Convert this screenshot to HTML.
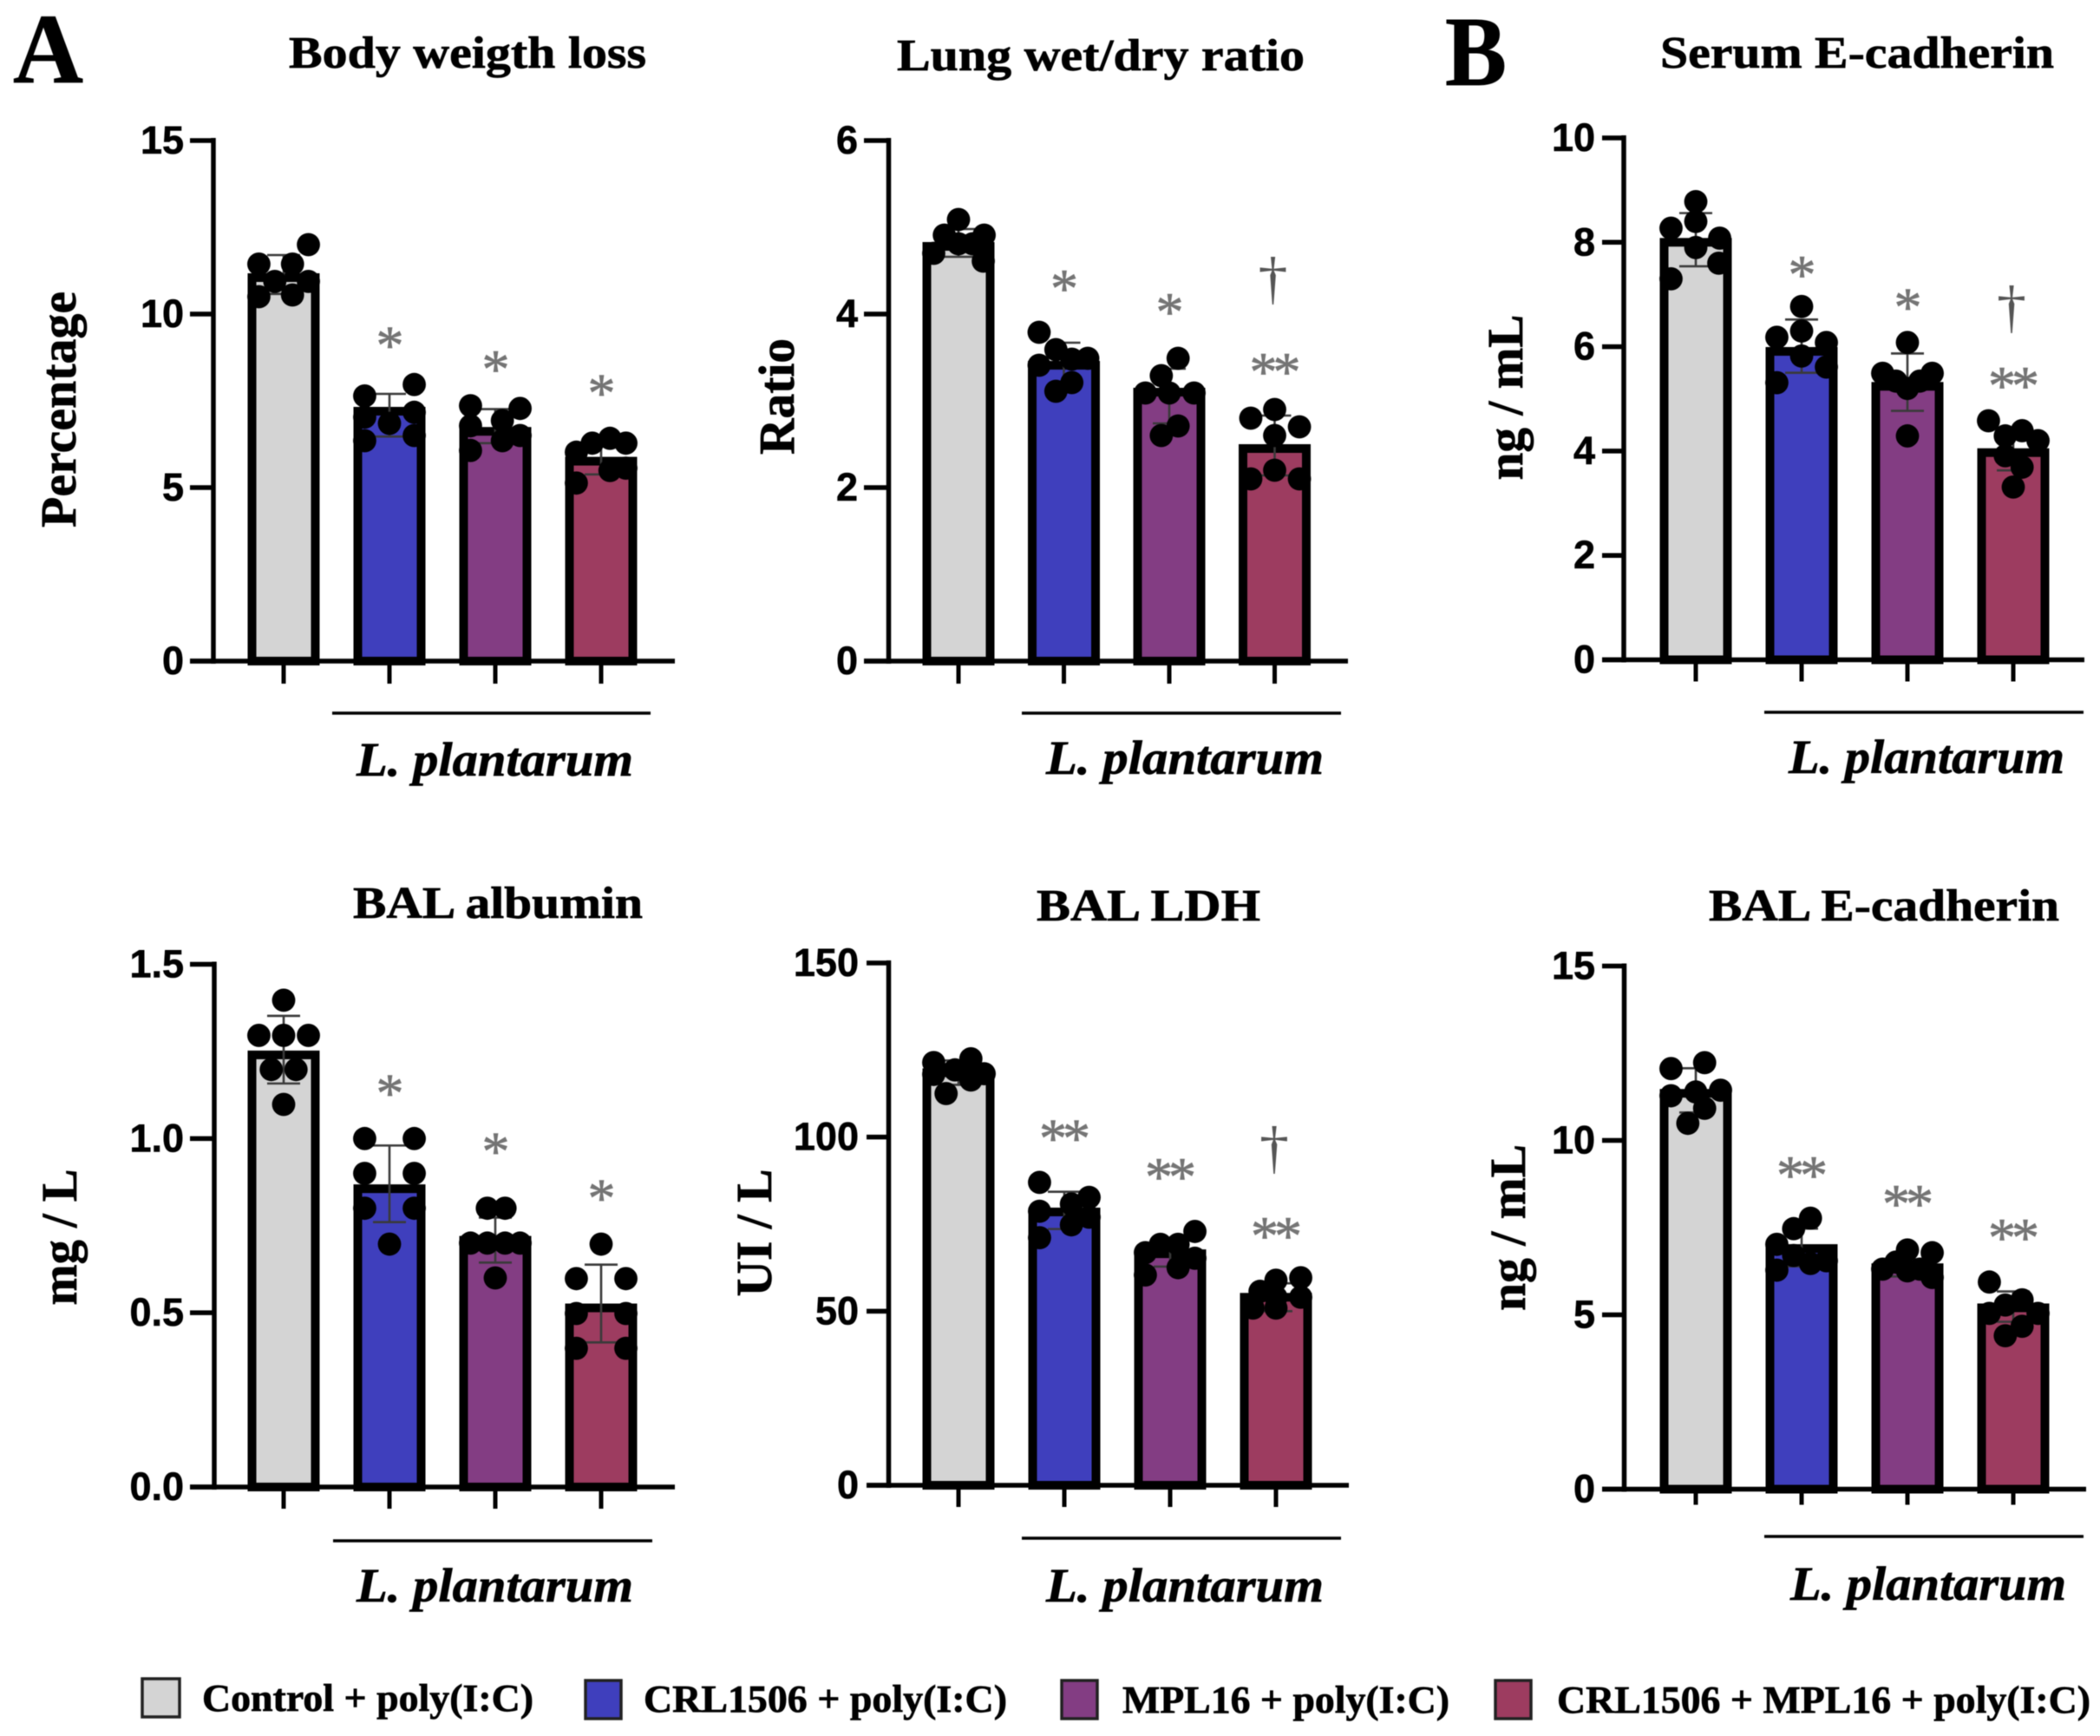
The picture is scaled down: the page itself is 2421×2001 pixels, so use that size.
<!DOCTYPE html>
<html lang="en">
<head>
<meta charset="utf-8">
<title>Lung injury bar charts</title>
<style>
html,body{margin:0;padding:0;background:#fff;}
svg{display:block;filter:blur(0.6px);}
.serif{font-family:"Liberation Serif",serif;font-weight:700;fill:#000;stroke:#000;stroke-width:0.7;}
.title{font-size:52px;}
.letter{font-size:114px;}
.axis-title{font-size:58px;}
.species{font-size:55px;font-style:italic;}
.legend-text{font-size:44px;}
.tick-label{font-family:"Liberation Sans",sans-serif;font-weight:700;font-size:45px;fill:#000;stroke:#000;stroke-width:0.6;}
.sig{font-family:"Liberation Serif",serif;fill:#747474;stroke:#747474;stroke-width:0.7;text-anchor:middle;letter-spacing:-5px;}
.dagger{font-family:"Liberation Serif",serif;fill:#555;text-anchor:middle;}
</style>
</head>
<body>
<svg id="figure" xmlns="http://www.w3.org/2000/svg" width="2421" height="2001" viewBox="0 0 2421 2001">
  <rect width="2421" height="2001" fill="#fff"/>
  <text class="serif letter" x="15" y="95" textLength="81" lengthAdjust="spacingAndGlyphs">A</text>
  <text class="serif letter" x="1666" y="98" textLength="71" lengthAdjust="spacingAndGlyphs">B</text>

  <text class="serif title" x="333" y="78" textLength="412" lengthAdjust="spacingAndGlyphs">Body weigth loss</text>
  <text class="serif title" x="1034" y="81" textLength="470" lengthAdjust="spacingAndGlyphs">Lung wet/dry ratio</text>
  <text class="serif title" x="1914" y="78" textLength="454" lengthAdjust="spacingAndGlyphs">Serum E-cadherin</text>
  <text class="serif title" x="407" y="1058" textLength="334" lengthAdjust="spacingAndGlyphs">BAL albumin</text>
  <text class="serif title" x="1195" y="1061" textLength="258" lengthAdjust="spacingAndGlyphs">BAL LDH</text>
  <text class="serif title" x="1970" y="1061" textLength="404" lengthAdjust="spacingAndGlyphs">BAL E-cadherin</text>

  <text class="serif axis-title" text-anchor="middle" transform="translate(87 472) rotate(-90)" textLength="272" lengthAdjust="spacingAndGlyphs">Percentage</text>
  <text class="serif axis-title" text-anchor="middle" transform="translate(915 457) rotate(-90)" textLength="134" lengthAdjust="spacingAndGlyphs">Ratio</text>
  <text class="serif axis-title" text-anchor="middle" transform="translate(1755 458) rotate(-90)" textLength="191" lengthAdjust="spacingAndGlyphs">ng / mL</text>
  <text class="serif axis-title" text-anchor="middle" transform="translate(88 1426) rotate(-90)" textLength="157" lengthAdjust="spacingAndGlyphs">mg / L</text>
  <text class="serif axis-title" text-anchor="middle" transform="translate(889 1421) rotate(-90)" textLength="147" lengthAdjust="spacingAndGlyphs">UI / L</text>
  <text class="serif axis-title" text-anchor="middle" transform="translate(1758 1415) rotate(-90)" textLength="192" lengthAdjust="spacingAndGlyphs">ng / mL</text>

  <g stroke="#000" stroke-width="3.5">
    <line x1="383" x2="750" y1="822" y2="822"/>
    <line x1="1178" x2="1546" y1="822" y2="822"/>
    <line x1="2034" x2="2402" y1="821" y2="821"/>
    <line x1="384" x2="752" y1="1776" y2="1776"/>
    <line x1="1178" x2="1546" y1="1773" y2="1773"/>
    <line x1="2034" x2="2402" y1="1771" y2="1771"/>
  </g>
  <text class="serif species" x="411" y="894" textLength="319" lengthAdjust="spacingAndGlyphs">L. plantarum</text>
  <text class="serif species" x="1206" y="892" textLength="320" lengthAdjust="spacingAndGlyphs">L. plantarum</text>
  <text class="serif species" x="2062" y="891" textLength="318" lengthAdjust="spacingAndGlyphs">L. plantarum</text>
  <text class="serif species" x="411" y="1846" textLength="319" lengthAdjust="spacingAndGlyphs">L. plantarum</text>
  <text class="serif species" x="1206" y="1846" textLength="320" lengthAdjust="spacingAndGlyphs">L. plantarum</text>
  <text class="serif species" x="2064" y="1844" textLength="318" lengthAdjust="spacingAndGlyphs">L. plantarum</text>

  <g>
    <g>
      <rect x="164" y="1935" width="43" height="44" fill="#d4d4d4" stroke="#222" stroke-width="3.5"/>
      <text class="serif legend-text" x="233" y="1972" textLength="382" lengthAdjust="spacingAndGlyphs">Control + poly(I:C)</text>
    </g>
    <g>
      <rect x="675" y="1937" width="41" height="44" fill="#3f3fbd" stroke="#222" stroke-width="3.5"/>
      <text class="serif legend-text" x="742" y="1973" textLength="419" lengthAdjust="spacingAndGlyphs">CRL1506 + poly(I:C)</text>
    </g>
    <g>
      <rect x="1224" y="1937" width="41" height="44" fill="#833d83" stroke="#222" stroke-width="3.5"/>
      <text class="serif legend-text" x="1294" y="1974" textLength="377" lengthAdjust="spacingAndGlyphs">MPL16 + poly(I:C)</text>
    </g>
    <g>
      <rect x="1724" y="1937" width="41" height="44" fill="#9d3c60" stroke="#222" stroke-width="3.5"/>
      <text class="serif legend-text" x="1795" y="1974" textLength="615" lengthAdjust="spacingAndGlyphs">CRL1506 + MPL16 + poly(I:C)</text>
    </g>
  </g>
</svg>

<script>
const groups = ['control', 'crl1506', 'mpl16', 'combination'];

const bodyWeightTicks = ['0', '5', '10', '15'];
const bodyWeightMeans = [11.05, 7.2, 6.62, 5.76];
const bodyWeightErrLow = [10.58, 6.47, 6.28, 5.38];
const bodyWeightErrHigh = [11.7, 7.7, 7.26, 6.28];
const bodyWeightDots = [
  [12.0, 11.44, 11.44, 10.94, 10.94, 10.5, 10.55],
  [7.64, 7.97, 7.03, 7.17, 6.85, 6.35, 6.5],
  [7.36, 7.28, 6.93, 6.78, 6.5, 6.35, 6.07],
  [6.02, 6.28, 6.42, 6.28, 5.49, 5.56, 5.13]
];
const bodyWeightSlots = [
  [1.4, -1.4, 0.5, -0.5, 1.4, -1.4, 0.5],
  [-1.4, 1.4, -1.4, 1.4, 0, -1.4, 1.4],
  [-1.4, 1.4, 0.4, -1.4, 1.4, 0.4, -1.4],
  [-1.4, -0.5, 0.5, 1.4, 0.5, 1.4, -1.4]
];
const bodyWeightSigLabels = ['', '*', '*', '*'];
const bodyWeightSigLevels = [0, 9.26, 8.57, 7.89];
const bodyWeightDaggerLevels = [0, 0, 0, 0];

const lungTicks = ['0', '2', '4', '6'];
const lungMeans = [4.78, 3.41, 3.1, 2.45];
const lungErrLow = [4.66, 3.17, 2.74, 2.14];
const lungErrHigh = [4.98, 3.67, 3.37, 2.83];
const lungDots = [
  [5.09, 4.91, 4.91, 4.7, 4.81, 4.81, 4.61],
  [3.79, 3.59, 3.41, 3.48, 3.49, 3.21, 3.11],
  [3.49, 3.29, 3.09, 3.09, 3.09, 2.71, 2.6],
  [2.9, 2.8, 2.7, 2.6, 2.2, 2.1, 2.1]
];
const lungSlots = [
  [0, -0.8, 1.45, -1.4, 0, 0.8, 1.4],
  [-1.4, -0.45, -1.4, 0.45, 1.35, 0.45, -0.45],
  [0.5, -0.45, -1.35, 0, 1.4, 0.5, -0.45],
  [0, -1.35, 1.4, 0, 0, -1.35, 1.4]
];
const lungSigLabels = ['', '*', '*', '**'];
const lungSigLevels = [0, 4.36, 4.09, 3.4];
const lungDaggerLevels = [0, 0, 0, 4.38];

const serumTicks = ['0', '2', '4', '6', '8', '10'];
const serumMeans = [8.0, 5.91, 5.24, 3.97];
const serumErrLow = [7.54, 5.5, 4.77, 3.63];
const serumErrHigh = [8.56, 6.52, 5.87, 4.4];
const serumDots = [
  [8.78, 8.27, 8.4, 8.08, 7.9, 7.6, 7.3],
  [6.77, 6.18, 6.3, 6.08, 5.82, 5.61, 5.31],
  [6.08, 5.49, 5.49, 5.34, 5.34, 5.2, 4.29],
  [4.58, 4.39, 4.29, 4.2, 3.91, 3.69, 3.31]
];
const serumSlots = [
  [0, -1.4, 0, 1.35, 0, 1.3, -1.4],
  [0, -1.4, 0, 1.4, 0, 1.4, -1.4],
  [0, -1.4, 1.4, -0.65, 0.7, 0, 0],
  [-1.4, 0.5, -0.45, 1.4, -0.45, 0.5, 0]
];
const serumSigLabels = ['', '*', '*', '**'];
const serumSigLevels = [0, 7.49, 6.87, 5.36];
const serumDaggerLevels = [0, 0, 0, 6.71];

const albuminTicks = ['0.0', '0.5', '1.0', '1.5'];
const albuminMeans = [1.24, 0.856, 0.708, 0.514];
const albuminErrLow = [1.158, 0.76, 0.644, 0.415];
const albuminErrHigh = [1.352, 0.98, 0.773, 0.638];
const albuminDots = [
  [1.397, 1.296, 1.296, 1.296, 1.198, 1.198, 1.098],
  [1.0, 1.0, 0.9, 0.9, 0.8, 0.8, 0.697],
  [0.8, 0.8, 0.7, 0.7, 0.7, 0.7, 0.6],
  [0.697, 0.598, 0.598, 0.498, 0.498, 0.398, 0.398]
];
const albuminSlots = [
  [0, -1.4, 0, 1.4, -0.7, 0.7, 0],
  [-1.4, 1.4, -1.4, 1.4, -1.4, 1.4, 0],
  [-0.45, 0.55, -1.4, -0.45, 0.55, 1.4, 0],
  [0, -1.4, 1.4, -1.4, 1.4, -1.4, 1.4]
];
const albuminSigLabels = ['', '*', '*', '*'];
const albuminSigLevels = [0, 1.147, 0.98, 0.845];
const albuminDaggerLevels = [0, 0, 0, 0];

const ldhTicks = ['0', '50', '100', '150'];
const ldhMeans = [118.5, 78.5, 66.5, 54];
const ldhErrLow = [115, 73.6, 62.8, 50];
const ldhErrHigh = [122, 84.3, 69.5, 58];
const ldhDots = [
  [121.4, 122.5, 119.3, 118.2, 116.4, 118, 112.5],
  [87, 82.7, 80.8, 78.7, 74.8, 77, 71.1],
  [72.9, 69.2, 69.2, 66.8, 65.2, 62.5, 60.4],
  [59.6, 58.9, 55.7, 50.9, 50.9, 54, 54]
];
const ldhSlots = [
  [-1.4, 0.7, -0.2, 1.45, 0.7, -1.4, -0.7],
  [-1.4, 1.4, 0.4, -1.4, 0.4, 1.4, -1.4],
  [1.4, -0.55, 0.45, -1.4, 1.4, 0.45, -1.4],
  [1.4, 0, -0.9, -1.3, 0, 1.4, 0]
];
const ldhSigLabels = ['', '**', '**', '**'];
const ldhSigLevels = [0, 101.3, 90.2, 73.2];
const ldhDaggerLevels = [0, 0, 0, 96.2];

const balCadherinTicks = ['0', '5', '10', '15'];
const balCadherinMeans = [11.35, 6.9, 6.35, 5.2];
const balCadherinErrLow = [10.8, 6.39, 6.1, 4.8];
const balCadherinErrHigh = [12.07, 7.47, 6.5, 5.67];
const balCadherinDots = [
  [12.06, 12.23, 11.28, 11.39, 11.44, 10.92, 10.49],
  [7.77, 7.47, 7.02, 6.7, 6.28, 6.47, 6.55],
  [6.86, 6.78, 6.31, 6.51, 6.26, 6.31, 6.07],
  [5.94, 5.43, 5.28, 5.04, 5.04, 4.67, 4.4]
];
const balCadherinSlots = [
  [-1.4, 0.5, -1.4, 0, 1.4, 0.5, -0.45],
  [0.5, -0.45, -1.4, -0.45, -1.4, 0.5, 1.4],
  [0, 1.4, -1.4, -0.65, 0, 0.7, 1.4],
  [-1.35, 0.5, -0.45, -1.35, 1.4, 0.5, -0.45]
];
const balCadherinSigLabels = ['', '**', '**', '**'];
const balCadherinSigLevels = [0, 9.17, 8.34, 7.37];
const balCadherinDaggerLevels = [0, 0, 0, 0];

const fills = ['#d4d4d4', '#3f3fbd', '#833d83', '#9d3c60'];
const NS = 'http://www.w3.org/2000/svg';
const root = document.getElementById('figure');

function make(tag, attrs, parent) {
  const node = document.createElementNS(NS, tag);
  for (const key in attrs) node.setAttribute(key, attrs[key]);
  parent.appendChild(node);
  return node;
}

function drawPanel(name, frame, ticks, means, errLow, errHigh, dots, slots, sigLabels, sigLevels, daggerLevels) {
  const maxValue = parseFloat(ticks[ticks.length - 1]);
  const yScale = function (v) { return frame.base - (v / maxValue) * (frame.base - frame.top); };
  const xScale = function (i) { return frame.first + i * frame.step; };

  const panel = make('g', {}, root);
  
  

  means.forEach(function (mean, i) {
    const bar = make('rect', {
      x: xScale(i) - 36.5, y: yScale(mean), width: 73, height: frame.base - yScale(mean),
      fill: fills[i], stroke: '#000', 'stroke-width': 10
    }, panel);
    
    

    const stem = make('path', {
      d: 'M' + xScale(i) + ' ' + yScale(errLow[i]) + 'V' + yScale(errHigh[i]) +
         'M' + (xScale(i) - 19) + ' ' + yScale(errLow[i]) + 'h38' +
         'M' + (xScale(i) - 19) + ' ' + yScale(errHigh[i]) + 'h38',
      fill: 'none', stroke: '#3a3a3a', 'stroke-width': 2.6
    }, panel);
    
    

    dots[i].forEach(function (value, j) {
      const dot = make('circle', {
        cx: xScale(i) + slots[i][j] * 20.4, cy: yScale(value), r: 13.4, fill: '#000'
      }, panel);
      
      
    });

    if (sigLabels[i]) {
      const sig = make('text', {
        class: 'sig', x: xScale(i) - 2, y: yScale(sigLevels[i]) + 28, 'font-size': 64
      }, panel);
      sig.textContent = sigLabels[i];
      
      
    }
    if (daggerLevels[i]) {
      const dagger = make('text', {
        class: 'dagger', x: xScale(i) - 2, y: yScale(daggerLevels[i]) + 19, 'font-size': 68
      }, panel);
      dagger.textContent = '\u2020';
      
      
    }

    const xTick = make('line', {
      x1: xScale(i), x2: xScale(i), y1: frame.base, y2: frame.base + frame.tick,
      stroke: '#000', 'stroke-width': 5
    }, panel);
    
    
  });

  const yAxis = make('line', {
    x1: frame.axis, x2: frame.axis, y1: frame.top - 3, y2: frame.base + 3,
    stroke: '#000', 'stroke-width': 5.5
  }, panel);
  
  

  const xAxis = make('line', {
    x1: frame.tickLeft, x2: frame.right, y1: frame.base, y2: frame.base,
    stroke: '#000', 'stroke-width': 5.5
  }, panel);
  
  

  ticks.forEach(function (label) {
    const v = parseFloat(label);
    const yTick = make('line', {
      x1: frame.tickLeft, x2: frame.axis, y1: yScale(v), y2: yScale(v),
      stroke: '#000', 'stroke-width': 5.5
    }, panel);
    
    

    const tickText = make('text', {
      class: 'tick-label', x: frame.labelRight, y: yScale(v) + 15, 'text-anchor': 'end'
    }, panel);
    tickText.textContent = label;
    
    
  });
}

drawPanel('body-weight', {axis: 246, top: 162, base: 762, tickLeft: 219, right: 778, first: 327, step: 122, tick: 26, labelRight: 212},
  bodyWeightTicks, bodyWeightMeans, bodyWeightErrLow, bodyWeightErrHigh, bodyWeightDots, bodyWeightSlots, bodyWeightSigLabels, bodyWeightSigLevels, bodyWeightDaggerLevels);
drawPanel('lung-ratio', {axis: 1024.5, top: 162, base: 762, tickLeft: 996, right: 1554, first: 1105, step: 121.5, tick: 26, labelRight: 989},
  lungTicks, lungMeans, lungErrLow, lungErrHigh, lungDots, lungSlots, lungSigLabels, lungSigLevels, lungDaggerLevels);
drawPanel('serum-ecadherin', {axis: 1872, top: 159, base: 760.5, tickLeft: 1847, right: 2403, first: 1955, step: 122, tick: 25, labelRight: 1839},
  serumTicks, serumMeans, serumErrLow, serumErrHigh, serumDots, serumSlots, serumSigLabels, serumSigLevels, serumDaggerLevels);
drawPanel('bal-albumin', {axis: 247, top: 1111.5, base: 1714, tickLeft: 219, right: 778, first: 327, step: 122, tick: 25, labelRight: 212},
  albuminTicks, albuminMeans, albuminErrLow, albuminErrHigh, albuminDots, albuminSlots, albuminSigLabels, albuminSigLevels, albuminDaggerLevels);
drawPanel('bal-ldh', {axis: 1024.5, top: 1110, base: 1712, tickLeft: 999, right: 1555, first: 1105, step: 122, tick: 25, labelRight: 990},
  ldhTicks, ldhMeans, ldhErrLow, ldhErrHigh, ldhDots, ldhSlots, ldhSigLabels, ldhSigLevels, ldhDaggerLevels);
drawPanel('bal-ecadherin', {axis: 1872.5, top: 1113.5, base: 1716.5, tickLeft: 1847, right: 2405, first: 1955, step: 122, tick: 18, labelRight: 1839},
  balCadherinTicks, balCadherinMeans, balCadherinErrLow, balCadherinErrHigh, balCadherinDots, balCadherinSlots, balCadherinSigLabels, balCadherinSigLevels, balCadherinDaggerLevels);
</script>
</body>
</html>
